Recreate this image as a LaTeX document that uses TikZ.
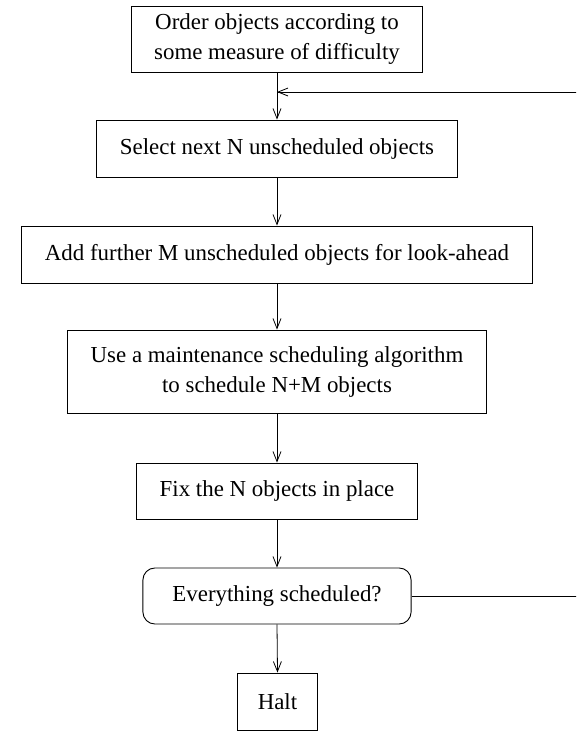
\documentclass[tikz,border=0pt]{standalone}
\usepackage{fontspec}
\setmainfont{Liberation Serif}
\usetikzlibrary{arrows.meta}
\begin{document}
\begin{tikzpicture}[x=1pt,y=-1pt,
  every node/.style={font=\fontsize{22.9}{30}\selectfont},
  box/.style={draw, line width=0.9pt, inner xsep=23pt, inner ysep=0pt, align=center},
  rbox/.style={box, rounded corners=12pt},
  conn/.style={draw, line width=0.8pt, -{Straight Barb[length=10pt,width=8pt,line width=0.8pt]}},
  plain/.style={draw, line width=0.8pt}]
\useasboundingbox (0,0) rectangle (576,731);
\clip (0,0) rectangle (576,731);
\node[box, minimum height=66.7pt] (top) at (277,39.3) {Order objects according to\\some measure of difficulty};
\node[box, minimum height=57pt] (sel) at (277,148.5) {Select next N unscheduled objects};
\node[box, minimum height=57pt] (add) at (277,254.5) {Add further M unscheduled objects for look-ahead};
\node[box, minimum height=83pt] (use) at (277,371.5) {Use a maintenance scheduling algorithm\\to schedule N+M objects};
\node[box, minimum height=56pt] (fix) at (277,491) {Fix the N objects in place};
\node[rbox, minimum height=56pt, inner xsep=29.5pt] (chk) at (277,596) {Everything scheduled?};
\node[box, minimum height=57pt, inner xsep=20pt] (halt) at (277.5,701.5) {Halt};
\coordinate (j) at (277,92);
\coordinate (rb) at (578,596);
\coordinate (rt) at (578,92);
\draw[conn] (top.south) -- (sel.north);
\draw[conn] (sel.south) -- (add.north);
\draw[conn] (add.south) -- (use.north);
\draw[conn] (use.south) -- (fix.north);
\draw[conn] (fix.south) -- (chk.north);
\draw[conn] (chk.south) -- (halt.north);
\draw[conn] (chk.east) -- (rb) -- (rt) -- (j);
\end{tikzpicture}
\end{document}
